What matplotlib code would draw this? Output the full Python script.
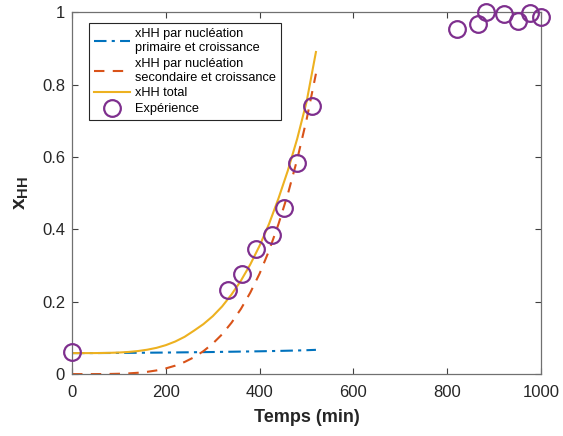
import matplotlib
matplotlib.use('Agg')
import matplotlib.pyplot as plt

plt.rcParams['font.family'] = ['Liberation Sans', 'DejaVu Sans']
plt.rcParams['mathtext.fontset'] = 'custom'
plt.rcParams['mathtext.rm'] = 'Liberation Sans'
plt.rcParams['mathtext.bf'] = 'Liberation Sans:bold'

# model curves
t_model = [0, 20, 40, 60, 80, 100, 120, 140, 160, 180, 200, 220, 240, 260,
           280, 300, 320, 340, 360, 380, 400, 420, 440, 460, 480, 500, 520]
x_primaire = [0.058, 0.058, 0.0581, 0.0582, 0.0583, 0.0585, 0.0587, 0.0589, 0.0591,
              0.0593, 0.0595, 0.0598, 0.0601, 0.0604, 0.0607, 0.061, 0.0614, 0.0618,
              0.0622, 0.0626, 0.063, 0.0635, 0.064, 0.0646, 0.0652, 0.066, 0.067]
x_secondaire = [0.0, 0.0, 0.00002, 0.0001, 0.00035, 0.0009, 0.0019, 0.0036, 0.0062,
                0.0101, 0.0157, 0.0233, 0.0335, 0.0465, 0.0633, 0.0843, 0.110, 0.142,
                0.180, 0.225, 0.278, 0.341, 0.414, 0.497, 0.593, 0.703, 0.830]
x_total = [0.058, 0.058, 0.058, 0.0582, 0.0587, 0.0596, 0.0611, 0.0636, 0.0673,
           0.0725, 0.080, 0.090, 0.103, 0.120, 0.138, 0.160, 0.187, 0.220, 0.258,
           0.303, 0.355, 0.415, 0.485, 0.562, 0.650, 0.752, 0.890]

# experiment
t_exp = [0, 333, 362, 392, 426, 452, 480, 512, 821, 866, 883, 921, 951, 977, 1000]
x_exp = [0.062, 0.232, 0.276, 0.345, 0.384, 0.459, 0.583, 0.740,
         0.953, 0.967, 1.0, 0.994, 0.975, 0.997, 0.986]

fig = plt.figure(figsize=(5.63, 4.36), dpi=100)
ax = fig.add_axes([0.128, 0.142, 0.833, 0.830])

ax.plot(t_model, x_primaire, color='#0072BD', lw=1.5, linestyle=(0, (6, 2.5, 1.5, 2.5)),
        label='xHH par nucléation\nprimaire et croissance')
ax.plot(t_model, x_secondaire, color='#D95319', lw=1.5, linestyle=(0, (5, 4)),
        label='xHH par nucléation\nsecondaire et croissance')
ax.plot(t_model, x_total, color='#EDB120', lw=1.5, label='xHH total')
ax.plot(t_exp, x_exp, 'o', mfc='none', mec='#7E2F8E', mew=1.6, ms=12,
        clip_on=False, zorder=5, label='Expérience')

ax.set_xlim(0, 1000)
ax.set_ylim(0, 1)
ax.set_xticks([0, 200, 400, 600, 800, 1000])
ax.set_yticks([0, 0.2, 0.4, 0.6, 0.8, 1])
ax.set_yticklabels(['0', '0.2', '0.4', '0.6', '0.8', '1'])
ax.tick_params(direction='in', top=True, right=True, length=4, width=0.8,
               color='#404040', labelsize=12, labelcolor='#262626')
ax.tick_params(axis='x', pad=8)
ax.tick_params(axis='y', pad=5)
for s in ax.spines.values():
    s.set_color('#707070')
    s.set_linewidth(0.9)

ax.set_xlabel('Temps (min)', fontsize=13, fontweight='bold', color='#262626', labelpad=6)
ax.set_ylabel(r'$\mathbf{x_{HH}}$', fontsize=15, color='#262626', labelpad=8)

leg = ax.legend(loc='upper left', bbox_to_anchor=(0.036, 0.97), borderaxespad=0,
                fontsize=9.2, frameon=True, fancybox=False, framealpha=1,
                handlelength=2.8, handletextpad=0.4, labelspacing=0.3,
                borderpad=0.4)
leg.get_frame().set_edgecolor('#262626')
leg.get_frame().set_linewidth(0.8)

fig.savefig('out.png', dpi=100)
